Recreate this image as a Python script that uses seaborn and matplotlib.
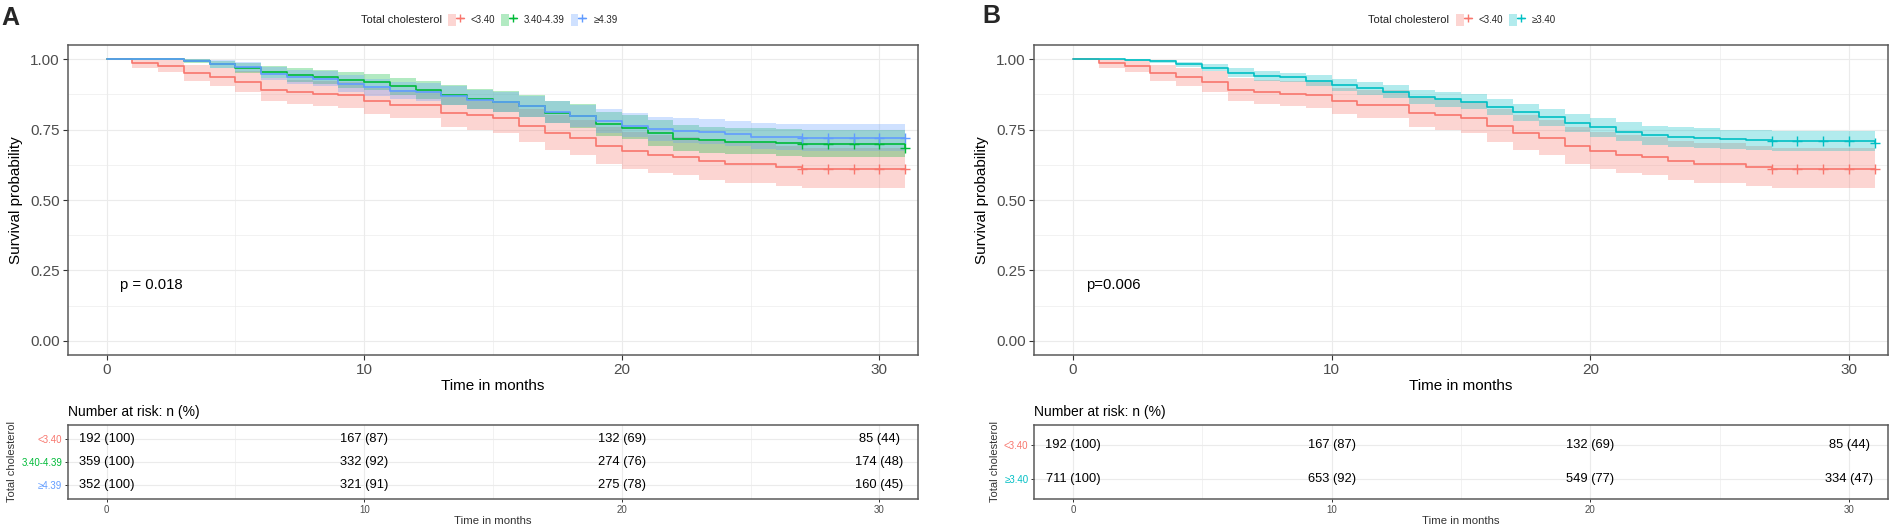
import matplotlib
matplotlib.use("Agg")
import matplotlib.pyplot as plt
from matplotlib.lines import Line2D
from matplotlib.patches import Patch
from matplotlib.legend_handler import HandlerTuple
from matplotlib.ticker import MultipleLocator
import seaborn as sns

sns.set_theme(style="whitegrid")
plt.rcParams['font.family'] = ['Liberation Sans', 'DejaVu Sans']

# ---- data ----
months = list(range(32))
censor_months = [27, 28, 29, 30, 31]

# <3.40 (same group in both panels)
low_v = [1.000, 0.985, 0.975, 0.950, 0.935, 0.920, 0.891, 0.883, 0.877, 0.871, 0.850, 0.838, 0.838, 0.810, 0.802, 0.792,
         0.762, 0.737, 0.719, 0.691, 0.673, 0.660, 0.653, 0.638, 0.628, 0.628, 0.616, 0.610, 0.610, 0.610, 0.610, 0.610]
low_lo = [1.000, 0.968, 0.953, 0.922, 0.903, 0.885, 0.852, 0.842, 0.835, 0.828, 0.804, 0.790, 0.790, 0.759, 0.750, 0.738,
          0.706, 0.679, 0.659, 0.629, 0.610, 0.596, 0.588, 0.572, 0.561, 0.561, 0.549, 0.543, 0.543, 0.543, 0.543, 0.543]
low_hi = [1.000, 1.000, 0.997, 0.980, 0.970, 0.958, 0.932, 0.926, 0.922, 0.917, 0.899, 0.889, 0.889, 0.865, 0.858, 0.849,
          0.823, 0.801, 0.785, 0.760, 0.743, 0.731, 0.725, 0.711, 0.701, 0.701, 0.690, 0.685, 0.685, 0.685, 0.685, 0.685]

# 3.40-4.39
mid_v = [1.000, 1.000, 1.000, 0.994, 0.981, 0.969, 0.955, 0.943, 0.937, 0.926, 0.920, 0.903, 0.891, 0.871, 0.857, 0.848,
         0.833, 0.810, 0.797, 0.769, 0.757, 0.736, 0.717, 0.712, 0.707, 0.707, 0.702, 0.698, 0.698, 0.698, 0.698, 0.686]
mid_lo = [1.000, 1.000, 1.000, 0.986, 0.967, 0.951, 0.934, 0.919, 0.912, 0.899, 0.892, 0.873, 0.859, 0.837, 0.822, 0.812,
          0.796, 0.772, 0.757, 0.728, 0.715, 0.693, 0.673, 0.668, 0.662, 0.662, 0.657, 0.652, 0.652, 0.652, 0.652, 0.636]
mid_hi = [1.000, 1.000, 1.000, 1.000, 0.995, 0.987, 0.977, 0.967, 0.962, 0.953, 0.948, 0.934, 0.924, 0.907, 0.894, 0.886,
          0.872, 0.851, 0.839, 0.813, 0.802, 0.783, 0.765, 0.760, 0.756, 0.756, 0.751, 0.748, 0.748, 0.748, 0.748, 0.740]

# >=4.39
high_v = [1.000, 1.000, 1.000, 0.995, 0.982, 0.972, 0.948, 0.937, 0.929, 0.912, 0.900, 0.888, 0.882, 0.870, 0.856, 0.846,
          0.832, 0.811, 0.797, 0.779, 0.763, 0.751, 0.745, 0.740, 0.734, 0.725, 0.722, 0.720, 0.720, 0.720, 0.720, 0.720]
high_lo = [1.000, 1.000, 1.000, 0.988, 0.968, 0.955, 0.925, 0.912, 0.903, 0.883, 0.870, 0.857, 0.850, 0.837, 0.822, 0.811,
           0.796, 0.773, 0.758, 0.739, 0.722, 0.709, 0.702, 0.697, 0.690, 0.680, 0.677, 0.675, 0.675, 0.675, 0.675, 0.675]
high_hi = [1.000, 1.000, 1.000, 1.000, 0.996, 0.989, 0.971, 0.963, 0.956, 0.942, 0.931, 0.920, 0.915, 0.904, 0.891, 0.882,
           0.869, 0.851, 0.838, 0.822, 0.807, 0.796, 0.791, 0.786, 0.781, 0.773, 0.770, 0.768, 0.768, 0.768, 0.768, 0.768]

# >=3.40 (panel B)
ge_v = [1.000, 1.000, 0.998, 0.992, 0.982, 0.970, 0.952, 0.941, 0.935, 0.923, 0.909, 0.897, 0.885, 0.867, 0.857, 0.849,
        0.831, 0.811, 0.793, 0.774, 0.758, 0.742, 0.730, 0.724, 0.721, 0.715, 0.713, 0.710, 0.710, 0.710, 0.710, 0.704]
ge_lo = [1.000, 1.000, 0.995, 0.986, 0.972, 0.958, 0.936, 0.924, 0.917, 0.903, 0.887, 0.874, 0.861, 0.841, 0.830, 0.822,
         0.802, 0.781, 0.762, 0.742, 0.725, 0.708, 0.696, 0.689, 0.686, 0.680, 0.677, 0.674, 0.674, 0.674, 0.674, 0.667]
ge_hi = [1.000, 1.000, 1.000, 0.998, 0.991, 0.982, 0.967, 0.957, 0.952, 0.942, 0.930, 0.919, 0.908, 0.892, 0.883, 0.875,
         0.859, 0.841, 0.824, 0.806, 0.791, 0.776, 0.764, 0.759, 0.756, 0.750, 0.749, 0.746, 0.746, 0.746, 0.746, 0.741]

risk_times = [0, 10, 20, 30]
risk_low = [(192, 100), (167, 87), (132, 69), (85, 44)]
risk_mid = [(359, 100), (332, 92), (274, 76), (174, 48)]
risk_high = [(352, 100), (321, 91), (275, 78), (160, 45)]
risk_ge = [(711, 100), (653, 92), (549, 77), (334, 47)]

RED, GREEN, BLUE, TEAL = "#F8766D", "#00BA38", "#619CFF", "#00BFC4"

groups_a = [("<3.40", RED, low_v, low_lo, low_hi, risk_low),
            ("3.40-4.39", GREEN, mid_v, mid_lo, mid_hi, risk_mid),
            ("\u22654.39", BLUE, high_v, high_lo, high_hi, risk_high)]
groups_b = [("<3.40", RED, low_v, low_lo, low_hi, risk_low),
            ("\u22653.40", TEAL, ge_v, ge_lo, ge_hi, risk_ge)]

BORDER = "#5a5a5a"
GRID = "#EBEBEB"
TICKC = "#4D4D4D"
XLIM = (-1.5, 31.5)


def style_axes(ax):
    for s in ax.spines.values():
        s.set_visible(True)
        s.set_color(BORDER)
        s.set_linewidth(1.1)
    ax.xaxis.set_major_locator(MultipleLocator(10))
    ax.xaxis.set_minor_locator(MultipleLocator(5))
    ax.grid(which="major", color=GRID, lw=0.8)
    ax.grid(which="minor", color=GRID, lw=0.45)
    ax.set_axisbelow(True)


def draw_km(ax, groups, ptext, px):
    for name, col, v, lo, hi, _ in groups:
        ax.fill_between(months, lo, hi, step="post", color=col, alpha=0.3, lw=0)
    for name, col, v, lo, hi, _ in groups:
        sns.lineplot(x=months, y=v, ax=ax, color=col, drawstyle="steps-post",
                     lw=1.2, estimator=None, sort=False, errorbar=None)
        ax.plot(censor_months, [v[m] for m in censor_months], ls="none",
                marker="+", ms=7, mew=1.0, color=col)
    style_axes(ax)
    ax.yaxis.set_major_locator(MultipleLocator(0.25))
    ax.yaxis.set_minor_locator(MultipleLocator(0.125))
    ax.set_xlim(*XLIM)
    ax.set_ylim(-0.05, 1.05)
    ax.yaxis.set_major_formatter(matplotlib.ticker.FormatStrFormatter("%.2f"))
    ax.tick_params(which="major", length=3.5, width=0.8, color="#333333",
                   labelsize=11, labelcolor=TICKC, pad=2.5, bottom=True, left=True)
    ax.tick_params(which="minor", length=0)
    ax.set_xlabel("Time in months", fontsize=11, color="black")
    ax.xaxis.set_label_coords(0.5, -0.1)
    ax.xaxis.label.set_va("center")
    ax.set_ylabel("Survival probability", fontsize=11, color="black", labelpad=5)
    ax.text(px, 0.2, ptext, ha="left", va="center", fontsize=10.7, color="black")


def draw_table(ax, groups):
    n = len(groups)
    for i, (name, col, v, lo, hi, risk) in enumerate(groups):
        for t, (cnt, pct) in zip(risk_times, risk):
            ax.text(t, i, f"{cnt} ({pct})", ha="center", va="center", fontsize=9.3, color="black")
    style_axes(ax)
    ax.set_xlim(*XLIM)
    ax.set_ylim(n - 1 + 0.6, -0.6)
    ax.set_yticks(range(n))
    ax.set_yticklabels([g[0] for g in groups])
    for lab, g in zip(ax.get_yticklabels(), groups):
        lab.set_color(g[1])
    ax.tick_params(which="major", length=2.5, width=0.7, color="#333333",
                   labelsize=7, labelcolor=TICKC, pad=1.5, bottom=True, left=True)
    for lab, g in zip(ax.get_yticklabels(), groups):
        lab.set_color(g[1])
    ax.tick_params(which="minor", length=0)
    ax.set_ylabel("Total cholesterol", fontsize=8, color="#333333", labelpad=3)
    ax.set_xlabel("Time in months", fontsize=8.2, color="#333333")
    ax.xaxis.set_label_coords(0.5, -0.297)
    ax.xaxis.label.set_va("center")
    ax.text(0, 1.176, "Number at risk: n (%)", transform=ax.transAxes, ha="left",
            va="center", fontsize=10, color="black")


def add_legend(fig, groups, title_right, x0):
    handles = [(Patch(facecolor=g[1], alpha=0.3, lw=0),
                Line2D([], [], color=g[1], lw=1.0, marker="+", ms=6, mew=1.0)) for g in groups]
    fig.text(title_right / 1890, 1 - 20 / 525, "Total cholesterol", ha="right",
             va="center", fontsize=8, color="#222222")
    fig.legend(handles, [g[0] for g in groups], loc="center left",
               bbox_to_anchor=(x0 / 1890, 1 - 20 / 525), ncol=len(groups), frameon=False,
               fontsize=7, handlelength=1.62, handleheight=1.6, handletextpad=0.72,
               columnspacing=0.6, borderpad=0, borderaxespad=0,
               handler_map={tuple: HandlerTuple(ndivide=None)})


fig = plt.figure(figsize=(18.9, 5.25), dpi=100)
fig.patch.set_facecolor("white")

ax_a = fig.add_axes([68 / 1890, 1 - 355 / 525, 850 / 1890, 310 / 525])
tab_a = fig.add_axes([68 / 1890, 1 - 499 / 525, 850 / 1890, 74 / 525])
ax_b = fig.add_axes([1034 / 1890, 1 - 355 / 525, 854 / 1890, 310 / 525])
tab_b = fig.add_axes([1034 / 1890, 1 - 499 / 525, 854 / 1890, 74 / 525])

draw_km(ax_a, groups_a, "p = 0.018", 0.5)
draw_km(ax_b, groups_b, "p=0.006", 0.5)
draw_table(tab_a, groups_a)
draw_table(tab_b, groups_b)

add_legend(fig, groups_a, 442, 448)
add_legend(fig, groups_b, 1449, 1456)

fig.text(1 / 1890, 1 - 18 / 525, "A", fontsize=18, fontweight="bold", ha="left", va="center")
fig.text(982 / 1890, 1 - 16 / 525, "B", fontsize=18, fontweight="bold", ha="left", va="center")

fig.savefig("out.png", dpi=100, facecolor="white")
